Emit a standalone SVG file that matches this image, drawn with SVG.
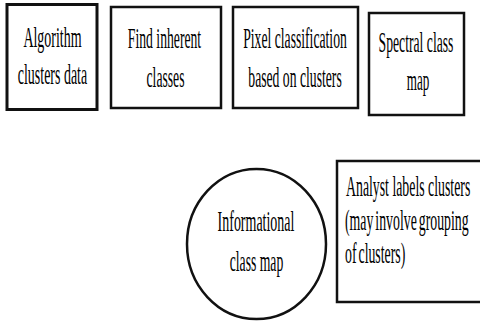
<svg xmlns="http://www.w3.org/2000/svg" width="480" height="323" viewBox="0 0 480 323">
<style>
.box{fill:#fff;stroke:#111;stroke-width:2.5}
.t{font-family:"Liberation Serif","Times New Roman",serif;font-size:28.5px;fill:#000}
.c{text-anchor:middle}
</style>
<rect width="480" height="323" fill="#fff"/>
<g id="connectors"></g>
<g id="n1">
<rect class="box" x="7" y="4.5" width="90" height="105" style="stroke-width:3"/>
<text class="t c" transform="translate(52.5,47) scale(0.49,1)">Algorithm</text>
<text class="t c" transform="translate(52.5,84) scale(0.49,1)">clusters data</text>
</g>
<g id="n2">
<rect class="box" x="111" y="7" width="110" height="101"/>
<text class="t c" transform="translate(164.5,48) scale(0.48,1)">Find inherent</text>
<text class="t c" transform="translate(165.5,87) scale(0.48,1)">classes</text>
</g>
<g id="n3">
<rect class="box" x="233" y="7" width="125" height="101"/>
<text class="t c" transform="translate(295,48) scale(0.48,1)">Pixel classification</text>
<text class="t c" transform="translate(295,87) scale(0.48,1)">based on clusters</text>
</g>
<g id="n4">
<rect class="box" x="369" y="13" width="95" height="102"/>
<text class="t c" transform="translate(416,52) scale(0.48,1)">Spectral class</text>
<text class="t c" transform="translate(418,90) scale(0.46,1)">map</text>
</g>
<g id="n5">
<ellipse class="box" cx="256.5" cy="244" rx="69.5" ry="75"/>
<text class="t c" transform="translate(256,231) scale(0.49,1)">Informational</text>
<text class="t c" transform="translate(256.5,271) scale(0.48,1)">class map</text>
</g>
<g id="n6">
<rect class="box" x="337" y="161" width="150" height="141"/>
<text class="t" transform="translate(346,196) scale(0.485,1)">Analyst labels clusters</text>
<text class="t" transform="translate(345,230) scale(0.485,1)" word-spacing="-3">(may involve grouping</text>
<text class="t" transform="translate(345,263) scale(0.485,1)" word-spacing="-3">of clusters)</text>
</g>
</svg>
